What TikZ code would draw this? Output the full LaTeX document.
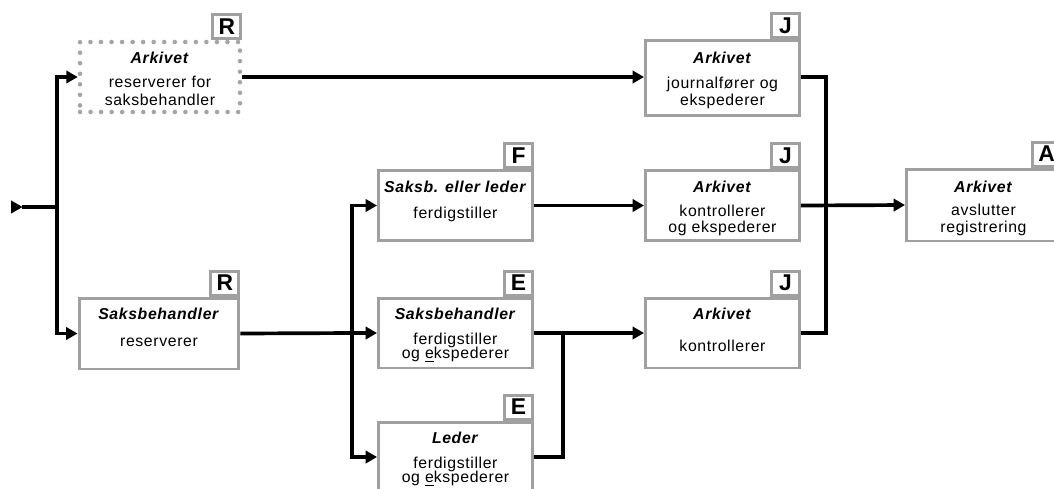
\documentclass[tikz,border=0pt]{standalone}
\usepackage{fontspec}
\setmainfont{Liberation Sans}[LetterSpace=4]
\usepackage{xcolor}
\usepackage{tikz}
\usetikzlibrary{arrows.meta,positioning}
\definecolor{boxgray}{RGB}{160,160,160}
\definecolor{dotgray}{RGB}{165,165,165}
\newcommand{\who}[1]{\textbf{\textit{#1}}}

\begin{document}
\begin{tikzpicture}[
    x=0.02cm, y=-0.02cm,
    node distance=2mm,
    box/.style={rectangle, draw=boxgray, line width=1.7pt, fill=white, minimum width=3.08cm, minimum height=1.4cm},
    dotbox/.style={box, draw=dotgray, dash pattern=on 0pt off 6pt, line cap=round, line width=2.6pt},
    tag/.style={rectangle, draw=boxgray, line width=1.7pt, fill=white, minimum width=0.56cm, minimum height=0.48cm, inner sep=0pt, font=\fontsize{13}{13}\selectfont\bfseries},
    txt/.style={align=center, inner sep=0pt, font=\fontsize{9}{10}\selectfont},
    wire/.style={line width=2.1pt, line join=miter},
    flow/.style={wire, -{Triangle[length=6.5pt,width=7pt]}}
]
\clip (0,0) rectangle (1054,488);

\node[dotbox, minimum width=3.2cm] (arkres) at (160,77) {};
\node[txt, below=2.3mm of arkres.north] {\who{Arkivet}\\[4pt] reserverer for\\ saksbehandler};
\node[tag, anchor=south east] (tarkres) at (arkres.north east) {R};

\node[box, minimum width=3.2cm, minimum height=1.42cm] (saksres) at (159,333.5) {};
\node[txt, below=2.3mm of saksres.north] {\who{Saksbehandler}\\[5pt] reserverer};
\node[tag, anchor=south east] (tsaksres) at (saksres.north east) {R};

\node[box] (saksf) at (455.5,205.5) {};
\node[txt, below=2.3mm of saksf.north] {\who{Saksb. eller leder}\\[5pt] ferdigstiller};
\node[tag, anchor=south east] (tsaksf) at (saksf.north east) {F};

\node[box] (sakse) at (455.5,333) {};
\node[txt, below=2.3mm of sakse.north] {\who{Saksbehandler}\\[4pt] ferdigstiller\\[-2pt] og \underline{e}kspederer};
\node[tag, anchor=south east] (tsakse) at (sakse.north east) {E};

\node[box] (leder) at (455.5,457) {};
\node[txt, below=2.3mm of leder.north] {\who{Leder}\\[4pt] ferdigstiller\\[-2pt] og \underline{e}kspederer};
\node[tag, anchor=south east] (tleder) at (leder.north east) {E};

\node[box, minimum height=1.5cm] (arkjour) at (722.5,78) {};
\node[txt, below=2.6mm of arkjour.north] {\who{Arkivet}\\[4pt] journalfører og\\ ekspederer};
\node[tag, anchor=south east] (tarkjour) at (arkjour.north east) {J};

\node[box] (arkkon) at (722.5,205.5) {};
\node[txt, below=2.3mm of arkkon.north] {\who{Arkivet}\\[4pt] kontrollerer\\[-1pt] og ekspederer};
\node[tag, anchor=south east] (tarkkon) at (arkkon.north east) {J};

\node[box] (arkktr) at (722.5,333) {};
\node[txt, below=2.3mm of arkktr.north] {\who{Arkivet}\\[8pt] kontrollerer};
\node[tag, anchor=south east] (tarkktr) at (arkktr.north east) {J};

\node[box, minimum height=1.44cm] (arkavs) at (983.5,205) {};
\node[txt, below=2.6mm of arkavs.north] {\who{Arkivet}\\[3pt] avslutter\\ registrering};
\node[tag, anchor=south east] (tarkavs) at (arkavs.north east) {A};

\coordinate (inn) at (11,207);
\coordinate (split) at (57,207);
\coordinate (fork) at (352,333);
\coordinate (merge) at (563,333);
\coordinate (join) at (826,205.5);

\draw[wire, {Triangle[reversed,length=6.5pt,width=7.5pt,line width=0pt]}-] (inn) -- (split);
\draw[flow] (split) |- (arkres.west);
\draw[flow] (split) |- (saksres.west);
\draw[flow] (arkres.east) -- (arkres.east -| arkjour.west);
\draw[wire] (saksres.east) -- (fork);
\draw[flow] (fork) |- (saksf.west);
\draw[flow] (fork) -- (sakse.west);
\draw[flow] (fork) |- (leder.west);
\draw[flow] (saksf.east) -- (arkkon.west);
\draw[flow] (sakse.east) -- (arkktr.west);
\draw[wire] (leder.east) -| (merge);
\draw[wire] (arkres.east -| arkjour.east) -| (join);
\draw[wire] (arkktr.east) -| (join);
\draw[flow] (arkkon.east) -- (arkavs.west);
\end{tikzpicture}
\end{document}
